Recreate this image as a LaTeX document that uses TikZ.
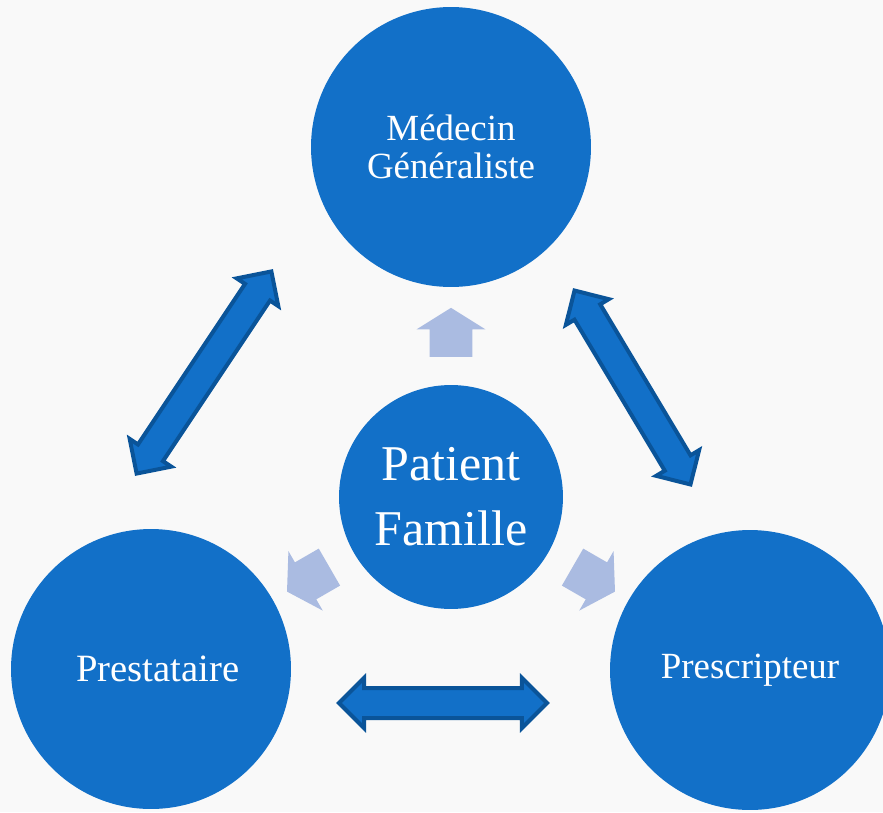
\documentclass[tikz,border=0pt]{standalone}
\usepackage{fontspec}
\setmainfont{Liberation Serif}
\usetikzlibrary{shapes.arrows}

\definecolor{bleu}{RGB}{18,112,200}
\definecolor{bleufonce}{RGB}{10,84,153}
\definecolor{bleuclair}{RGB}{170,187,225}
\definecolor{fond}{RGB}{249,249,249}

\tikzset{
	acteur/.style={circle, fill=bleu, text=white, align=center, inner sep=0pt, minimum size=5.6cm, font=\fontsize{21}{21.5}\selectfont},
	lien/.style={double arrow, draw=bleufonce, fill=bleu, line width=0.08cm, inner xsep=0pt, inner ysep=0.26cm, double arrow head extend=0.2cm},
	vers/.style={single arrow, fill=bleuclair, inner xsep=0pt, inner ysep=0.42cm, single arrow head extend=0.26cm, single arrow tip angle=116, minimum height=0.98cm}
}

\begin{document}
\begin{tikzpicture}[x=0.02cm, y=-0.02cm]
		\fill[fond] (0,0) rectangle (883,812);
		\useasboundingbox (0,0) rectangle (883,812);
		\clip (0,0) rectangle (883,812);

		\node[acteur] (med) at (451,147) {Médecin\\Généraliste};
		\node[acteur, font=\fontsize{22}{22}\selectfont] (prest) at (151,669) {\hspace*{0.28cm}Prestataire};
		\node[acteur] (presc) at (750,670) {Prescripteur};
		\node[acteur, minimum size=4.48cm, font=\fontsize{28.5}{37}\selectfont] (pat) at (451,497) {Patient\\Famille};

		% small arrows from the patient outwards
		\node[vers, rotate=90] (v1) at (451,339) {};
		\node[vers, rotate=210] (v2) at (314,576) {};
		\node[vers, rotate=330] (v3) at (588,576) {};

		% the three exchanges
		\coordinate (a1) at (135,476);
		\coordinate (a2) at (273,269);
		\coordinate (b1) at (573,288);
		\coordinate (b2) at (692,487);
		\coordinate (c1) at (336,703);
		\coordinate (c2) at (550,703);

		\path (a1) -- (a2) node[lien, midway, sloped, minimum height=4.86cm] (l1) {};
		\path (b1) -- (b2) node[lien, midway, sloped, minimum height=4.52cm] (l2) {};
		\path (c1) -- (c2) node[lien, midway, sloped, minimum height=4.16cm] (l3) {};
	\end{tikzpicture}
\end{document}
